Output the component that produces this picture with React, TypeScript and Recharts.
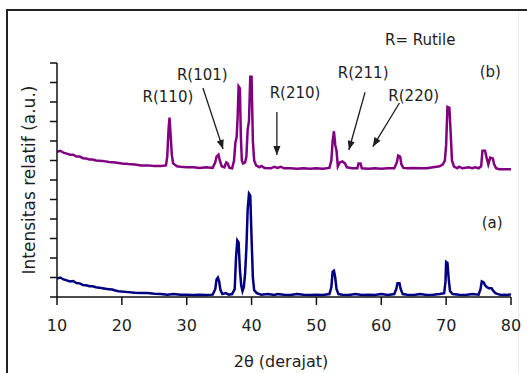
import React from 'react';
import { LineChart, Line, XAxis, YAxis, ReferenceLine, ReferenceDot } from 'recharts';

// Sample (a) – navy pattern: [2θ, relative intensity]
const patternA: [number, number][] = [
  [10, 0.95], [10.5, 1.0], [11, 0.9], [11.5, 0.85], [12, 0.8], [12.5, 0.82], [13, 0.72], [13.5, 0.7],
  [14, 0.62], [14.5, 0.6], [15, 0.55], [15.5, 0.55], [16, 0.5], [16.5, 0.48], [17, 0.45], [17.5, 0.42],
  [18, 0.4], [18.5, 0.38], [19, 0.33], [19.5, 0.3], [20, 0.28], [21, 0.25], [22, 0.22], [23, 0.2],
  [24, 0.2], [25, 0.17], [26, 0.15], [27, 0.12], [28, 0.15], [29, 0.12], [30, 0.12], [31, 0.1],
  [32, 0.12], [33, 0.1], [34, 0.12], [34.4, 0.4], [34.6, 0.9], [34.8, 1.0], [35.0, 0.8], [35.2, 0.35],
  [35.5, 0.15], [36, 0.2], [36.5, 0.12], [37, 0.15], [37.4, 0.4], [37.6, 2.0], [37.8, 2.9], [38.0, 2.8],
  [38.2, 1.4], [38.4, 0.6], [38.6, 0.3], [38.8, 0.5], [39.0, 1.2], [39.2, 2.5], [39.4, 4.5], [39.6, 5.3],
  [39.8, 5.2], [40.0, 3.0], [40.2, 1.0], [40.4, 0.35], [40.8, 0.2], [41.5, 0.12], [42.5, 0.15], [43.5, 0.1],
  [44, 0.15], [45, 0.12], [46, 0.1], [47, 0.15], [48, 0.12], [49, 0.1], [50, 0.12], [51, 0.1],
  [52, 0.15], [52.3, 0.5], [52.5, 1.3], [52.7, 1.35], [52.9, 1.0], [53.1, 0.4], [53.4, 0.15], [54, 0.12],
  [55, 0.1], [56, 0.15], [57, 0.1], [58, 0.12], [59, 0.1], [60, 0.15], [61, 0.1], [62, 0.15],
  [62.3, 0.4], [62.5, 0.7], [62.8, 0.7], [63.0, 0.4], [63.3, 0.15], [64, 0.12], [65, 0.1], [66, 0.15],
  [67, 0.1], [68, 0.12], [69, 0.15], [69.7, 0.2], [69.9, 0.8], [70.0, 1.8], [70.2, 1.75], [70.4, 0.9],
  [70.6, 0.3], [71, 0.15], [72, 0.12], [73, 0.1], [74, 0.15], [75, 0.12], [75.3, 0.4], [75.5, 0.8],
  [75.8, 0.75], [76.0, 0.6], [76.3, 0.5], [76.6, 0.45], [77.0, 0.45], [77.3, 0.3], [77.6, 0.2], [78, 0.15],
  [78.5, 0.1], [79, 0.12], [79.5, 0.1], [80, 0.15],
];

// Sample (b) – purple pattern: [2θ, relative intensity]
const patternB: [number, number][] = [
  [10, 7.45], [10.5, 7.5], [11, 7.4], [11.5, 7.35], [12, 7.3], [12.5, 7.3], [13, 7.2], [13.5, 7.2],
  [14, 7.12], [14.5, 7.1], [15, 7.05], [15.5, 7.05], [16, 7.0], [17, 6.98], [18, 6.92], [19, 6.9],
  [20, 6.85], [21, 6.82], [22, 6.8], [23, 6.75], [24, 6.75], [25, 6.72], [26, 6.72], [26.8, 6.75],
  [27.0, 7.2], [27.2, 8.6], [27.35, 9.2], [27.5, 8.4], [27.7, 7.3], [27.9, 6.85], [28.5, 6.7], [29, 6.68],
  [30, 6.65], [31, 6.65], [32, 6.62], [33, 6.65], [34, 6.62], [34.4, 6.9], [34.6, 7.2], [34.9, 7.3],
  [35.1, 7.0], [35.4, 6.7], [35.8, 6.65], [36.1, 6.9], [36.3, 6.85], [36.6, 6.62], [37.0, 6.6], [37.3, 7.0],
  [37.5, 7.9], [37.7, 8.2], [37.85, 9.2], [38.0, 10.8], [38.2, 10.7], [38.35, 8.2], [38.5, 7.0], [38.7, 6.85],
  [39.0, 6.9], [39.2, 7.2], [39.4, 8.6], [39.6, 9.0], [39.8, 11.3], [40.0, 11.3], [40.2, 8.0], [40.4, 7.0],
  [40.7, 6.75], [41.2, 6.65], [41.5, 6.72], [42, 6.62], [43, 6.6], [43.5, 6.68], [44, 6.62], [44.5, 6.68],
  [45, 6.6], [46, 6.6], [47, 6.58], [48, 6.6], [49, 6.58], [50, 6.6], [51, 6.58], [52, 6.62],
  [52.3, 7.0], [52.5, 8.0], [52.7, 8.5], [52.9, 7.8], [53.1, 7.5], [53.3, 6.7], [53.6, 6.9], [54.0, 6.95],
  [54.4, 6.85], [54.7, 6.65], [55.5, 6.6], [56.3, 6.6], [56.5, 6.85], [56.8, 6.85], [57.0, 6.6], [58, 6.58],
  [59, 6.6], [60, 6.58], [61, 6.6], [62, 6.6], [62.4, 6.9], [62.6, 7.25], [62.9, 7.2], [63.1, 6.8],
  [63.4, 6.62], [64, 6.6], [65, 6.62], [66, 6.6], [67, 6.6], [68, 6.65], [69, 6.7], [69.5, 6.8],
  [69.8, 7.0], [70.0, 7.8], [70.2, 9.75], [70.5, 9.7], [70.7, 8.4], [70.9, 7.0], [71.2, 6.7], [71.7, 6.6],
  [72, 6.68], [72.5, 6.6], [73.5, 6.65], [74, 6.6], [74.5, 6.65], [75, 6.6], [75.4, 6.7], [75.6, 7.5],
  [76.0, 7.5], [76.2, 7.2], [76.5, 6.8], [76.8, 7.15], [77.2, 7.1], [77.4, 6.8], [77.7, 6.6], [78.2, 6.55],
  [79, 6.55], [80, 6.55],
];

const xTicks = [10, 20, 30, 40, 50, 60, 70, 80];
const yTicks = [0, 1, 2, 3, 4, 5, 6, 7, 8, 9, 10, 11, 12];

// Annotation texts, placed in chart units (2θ, intensity)
const notes = [
  { text: 'R= Rutile', x: 66.0, y: 13.2 },
  { text: '(b)', x: 76.8, y: 11.54 },
  { text: '(a)', x: 77.1, y: 3.8 },
  { text: 'R(110)', x: 27.1, y: 10.26 },
  { text: 'R(101)', x: 32.4, y: 11.4 },
  { text: 'R(210)', x: 46.7, y: 10.46 },
  { text: 'R(211)', x: 57.2, y: 11.5 },
  { text: 'R(220)', x: 65.0, y: 10.3 },
];

// Arrows from label to peak, in chart units
const arrows = [
  { x1: 32.5, y1: 10.72, x2: 35.6, y2: 7.59, angle: 71.8 },
  { x1: 43.9, y1: 9.49, x2: 43.9, y2: 7.28, angle: 90 },
  { x1: 57.5, y1: 10.5, x2: 55.0, y2: 7.54, angle: 105.4 },
  { x1: 62.8, y1: 9.95, x2: 58.7, y2: 7.71, angle: 120.6 },
];

const seriesA = patternA.map(([t, v]) => ({ t, v }));
const seriesB = patternB.map(([t, v]) => ({ t, v }));

const FONT = 'DejaVu Sans';
const INK = '#1e1e1e';

const NoteText = (props: any) => (
  <text
    x={props.cx}
    y={props.cy}
    textAnchor="middle"
    dominantBaseline="central"
    fontFamily={FONT}
    fontSize={15}
    fill={INK}
  >
    {props.label}
  </text>
);

const ArrowHead = (props: any) => (
  <polygon
    points="0,0 -9,-3.6 -9,3.6"
    transform={`translate(${props.cx},${props.cy}) rotate(${props.angle})`}
    fill={INK}
  />
);

export default function App() {
  return (
    <div
      style={{
        position: 'absolute',
        left: 0,
        top: 0,
        width: 527,
        height: 373,
        background: '#fff',
        overflow: 'hidden',
      }}
    >
      <div style={{ position: 'absolute', left: 6, top: 9, width: 521, height: 2, background: '#222' }} />
      <div style={{ position: 'absolute', left: 6, top: 9, width: 2, height: 364, background: '#222' }} />
      <div style={{ position: 'absolute', left: 518, top: 11, width: 1, height: 362, background: '#ececec' }} />
      <div style={{ position: 'absolute', left: 0, top: 0 }}>
        <LineChart width={527} height={373} margin={{ top: 63, right: 16, bottom: 0, left: 0 }}>
          <XAxis
            dataKey="t"
            type="number"
            domain={[10, 80]}
            ticks={xTicks}
            allowDataOverflow
            height={76}
            tickSize={8}
            tickMargin={15}
            axisLine={{ stroke: '#111', strokeWidth: 1.5 }}
            tickLine={{ stroke: '#111', strokeWidth: 1.5 }}
            tick={{ fill: INK, fontSize: 16, fontFamily: FONT }}
            label={{
              value: '2θ (derajat)',
              position: 'insideBottom',
              offset: 6,
              dx: -3,
              fill: INK,
              fontSize: 16,
              fontFamily: FONT,
            }}
          />
          <YAxis
            type="number"
            domain={[0, 12]}
            ticks={yTicks}
            allowDataOverflow
            width={57}
            tickSize={7}
            tickFormatter={() => ''}
            axisLine={{ stroke: '#111', strokeWidth: 1.5 }}
            tickLine={{ stroke: '#111', strokeWidth: 1.5 }}
            label={{
              value: 'Intensitas relatif (a.u.)',
              angle: -90,
              position: 'center',
              fill: INK,
              fontSize: 17,
              fontFamily: FONT,
            }}
          />
          <Line
            data={seriesA}
            dataKey="v"
            type="linear"
            stroke="#000080"
            strokeWidth={2.5}
            dot={false}
            activeDot={false}
            isAnimationActive={false}
          />
          <Line
            data={seriesB}
            dataKey="v"
            type="linear"
            stroke="#800080"
            strokeWidth={2.5}
            dot={false}
            activeDot={false}
            isAnimationActive={false}
          />
          {arrows.map((a, i) => (
            <ReferenceLine
              key={`al${i}`}
              segment={[
                { x: a.x1, y: a.y1 },
                { x: a.x2, y: a.y2 },
              ]}
              stroke={INK}
              strokeWidth={1.3}
              ifOverflow="visible"
            />
          ))}
          {arrows.map((a, i) => (
            <ReferenceDot
              key={`ah${i}`}
              x={a.x2}
              y={a.y2}
              r={1}
              ifOverflow="visible"
              shape={(p: any) => <ArrowHead cx={p.cx} cy={p.cy} angle={a.angle} />}
            />
          ))}
          {notes.map((n, i) => (
            <ReferenceDot
              key={`n${i}`}
              x={n.x}
              y={n.y}
              r={1}
              ifOverflow="visible"
              shape={(p: any) => <NoteText cx={p.cx} cy={p.cy} label={n.text} />}
            />
          ))}
        </LineChart>
      </div>
    </div>
  );
}
